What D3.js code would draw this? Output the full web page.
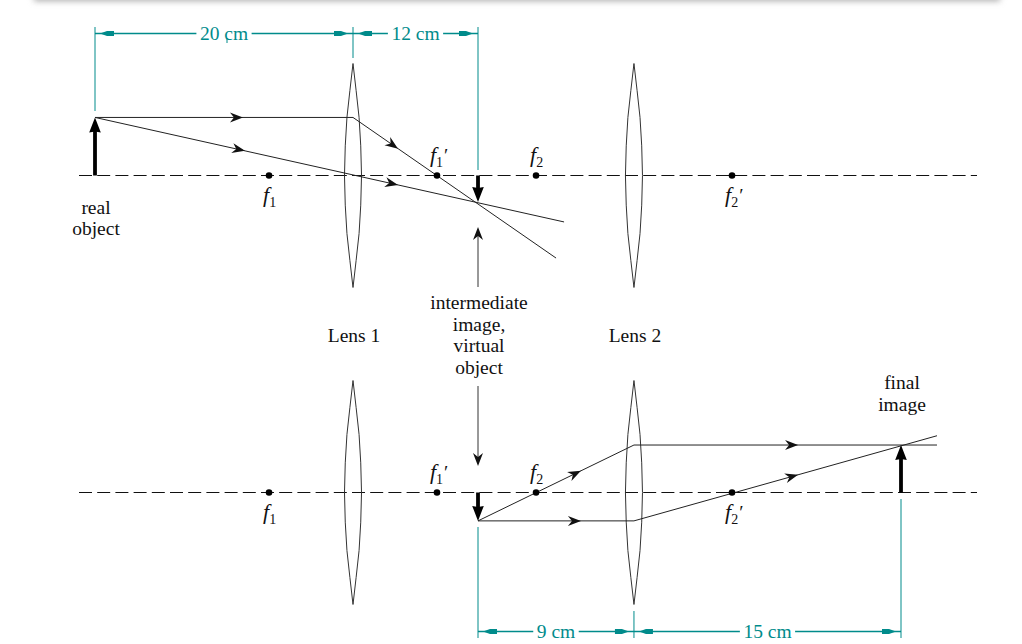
<!DOCTYPE html>
<html>
<head>
<meta charset="utf-8">
<script src="https://cdn.jsdelivr.net/npm/d3@7"></script>
<style>
body { margin: 0; background: #fff; }
text { font-family: "Liberation Serif", serif; font-size: 19.5px; fill: #111; }
</style>
</head>
<body>
<div id="chart"></div>
<script>
var w = 1022;
var h = 644;
var teal = "#008b8b";

// everything in cm from lens 1, height in cm above the axis
var objectX = -20, lens1X = 0, imageX = 9.69, lens2X = 21.78, finalX = 42.48;
var f1X = -6.51, f1pX = 6.51, f2X = 14.19, f2pX = 29.38;

var objectH = 4.5, imageTopH = -2.05, imageBottomH = -2.2, finalH = 3.68;

var lensProfile = [[8.68, 0], [6.6, 0.24], [4.5, 0.47], [2.3, 0.6], [0, 0.66]];

var topRays = [
  { points: [[-20, 4.5], [0, 4.5], [15.74, -6.4]], arrows: [-8.53, 3.49] },
  { points: [[-20, 4.5], [16.36, -3.6]], arrows: [-8.37, 3.49] }
];
var bottomRays = [
  { points: [[9.69, -2.2], [21.78, 3.68], [45.27, 3.68]], arrows: [17.67, 34.5] },
  { points: [[9.69, -2.2], [21.78, -2.2], [45.27, 4.4]], arrows: [17.67, 34.5] }
];

var focusTop = [
  { x: f1X, name: "f", sub: "1", prime: false, below: true },
  { x: f1pX, name: "f", sub: "1", prime: true, below: false },
  { x: f2X, name: "f", sub: "2", prime: false, below: false },
  { x: f2pX, name: "f", sub: "2", prime: true, below: true }
];

var topDims = [
  { from: objectX, to: lens1X, label: "20 cm" },
  { from: lens1X, to: imageX, label: "12 cm" }
];
var bottomDims = [
  { from: imageX, to: lens2X, label: "9 cm" },
  { from: lens2X, to: finalX, label: "15 cm" }
];

var captions = [
  { x: objectX, y: 214, lead: 21, lines: ["real", "object"] },
  { x: lens1X, y: 342, lead: 0, lines: ["Lens 1"] },
  { x: imageX, y: 309, lead: 21.7, lines: ["intermediate", "image,", "virtual", "object"] },
  { x: lens2X, y: 342, lead: 0, lines: ["Lens 2"] },
  { x: finalX, y: 389, lead: 21.7, lines: ["final", "image"] }
];

var x = d3.scaleLinear().domain([-20, 42.48]).range([95, 901]);
var yTop = d3.scaleLinear().domain([0, 1]).range([175.5, 162.6]);
var yBottom = d3.scaleLinear().domain([0, 1]).range([492.5, 479.6]);

var svg = d3.select("#chart").append("svg")
            .attr("width", w)
            .attr("height", h)
            .style("display", "block");

var defs = svg.append("defs");
defs.append("filter").attr("id", "blur")
    .attr("x", "-5%").attr("width", "110%").attr("y", "-300%").attr("height", "700%")
    .append("feGaussianBlur").attr("stdDeviation", 3);

// page shadow along the top edge
svg.append("rect")
   .attr("x", 34).attr("y", -6)
   .attr("width", 966).attr("height", 7)
   .attr("fill", "#aaa")
   .attr("filter", "url(#blur)");

function stealth(sel, px, py, angle) {
  sel.append("path")
     .attr("d", "M0,0L-13,-5L-9,0L-13,5Z")
     .attr("transform", "translate(" + px + "," + py + ") rotate(" + angle + ")")
     .attr("fill", "#111");
}

function tealHead(px, py, angle) {
  svg.append("path")
     .attr("d", "M0,0L-7,-2.4L-14,-2.4L-14,2.4L-7,2.4Z")
     .attr("transform", "translate(" + px + "," + py + ") rotate(" + angle + ")")
     .attr("fill", teal);
}

function drawLens(y, cx) {
  var pts = lensProfile.map(function(d) { return [d[1], d[0]]; })
    .concat(lensProfile.slice(0, -1).reverse().map(function(d) { return [d[1], -d[0]]; }));
  var line = d3.line()
    .x(function(d) { return x(cx + d[0]) })
    .y(function(d) { return y(d[1]) });
  var back = pts.map(function(d) { return [-d[0], d[1]]; }).reverse();
  svg.append("path")
     .attr("d", line(pts.concat(back)) + "Z")
     .attr("fill", "none")
     .attr("stroke", "#333")
     .attr("stroke-width", 1);
}

function drawAxis(y) {
  svg.append("line")
     .attr("x1", 79).attr("x2", 977)
     .attr("y1", y(0)).attr("y2", y(0))
     .attr("stroke", "#111")
     .attr("stroke-dasharray", "13,5.2");
}

function drawRays(y, rays) {
  var line = d3.line()
    .x(function(d) { return x(d[0]) })
    .y(function(d) { return y(d[1]) });
  rays.forEach(function(r) {
    svg.append("path")
       .attr("d", line(r.points))
       .attr("fill", "none")
       .attr("stroke", "#222")
       .attr("stroke-width", 1);
    r.arrows.forEach(function(at) {
      var i = 1;
      while (i < r.points.length - 1 && r.points[i][0] < at) i++;
      var a = r.points[i - 1], b = r.points[i];
      var ay = a[1] + (b[1] - a[1]) * (at - a[0]) / (b[0] - a[0]);
      var angle = Math.atan2(y(b[1]) - y(a[1]), x(b[0]) - x(a[0])) * 180 / Math.PI;
      stealth(svg, x(at), y(ay), angle);
    });
  });
}

function drawThick(y, at, height) {
  var dir = height > 0 ? -1 : 1;
  svg.append("line")
     .attr("x1", x(at)).attr("x2", x(at))
     .attr("y1", y(0)).attr("y2", y(height) - dir * 8)
     .attr("stroke", "#000")
     .attr("stroke-width", 3.8);
  svg.append("path")
     .attr("d", "M0,0L-5.8," + (-dir * 15) + "L0," + (-dir * 14) + "L5.8," + (-dir * 15) + "Z")
     .attr("transform", "translate(" + x(at) + "," + y(height) + ")")
     .attr("fill", "#000");
}

function drawFoci(y) {
  var g = svg.append("g");
  g.selectAll("circle")
   .data(focusTop)
   .enter()
   .append("circle")
   .attr("cx", function(d) { return x(d.x) })
   .attr("cy", y(0))
   .attr("r", 3.3)
   .attr("fill", "#000");

  var labels = g.selectAll("text")
    .data(focusTop)
    .enter()
    .append("text")
    .attr("x", function(d) { return x(d.x) - 6 + (d.prime ? -1 : 0) })
    .attr("y", function(d) { return y(0) + (d.below ? 26 : -13.5) });
  labels.append("tspan").text(function(d) { return d.name })
        .style("font-style", "italic")
        .style("font-size", "22px");
  labels.append("tspan").text(function(d) { return d.sub })
        .attr("dy", 5).style("font-size", "14px");
  labels.append("tspan").text(function(d) { return d.prime ? "\u2032" : "" })
        .attr("dx", 1).attr("dy", -5);
}

function drawDims(dims, lineY) {
  dims.forEach(function(d) {
    var label = svg.append("text")
      .attr("x", (x(d.from) + x(d.to)) / 2)
      .attr("y", lineY + 6.5)
      .attr("text-anchor", "middle")
      .style("fill", teal)
      .text(d.label);
    var half = label.node().getComputedTextLength() / 2 + 3.5;
    var mid = (x(d.from) + x(d.to)) / 2;
    svg.append("line").attr("x1", x(d.from)).attr("x2", mid - half)
       .attr("y1", lineY).attr("y2", lineY).attr("stroke", teal).attr("stroke-width", 1.4);
    svg.append("line").attr("x1", mid + half).attr("x2", x(d.to))
       .attr("y1", lineY).attr("y2", lineY).attr("stroke", teal).attr("stroke-width", 1.4);
    tealHead(x(d.from) + 5, lineY, 180);
    tealHead(x(d.to) - 5, lineY, 0);
  });
}

function extension(at, y1, y2) {
  svg.append("line")
     .attr("x1", x(at)).attr("x2", x(at))
     .attr("y1", y1).attr("y2", y2)
     .attr("stroke", teal)
     .attr("stroke-width", 1);
}

// top diagram
drawAxis(yTop);
drawLens(yTop, lens1X);
drawLens(yTop, lens2X);
drawRays(yTop, topRays);
drawThick(yTop, objectX, objectH);
drawThick(yTop, imageX, imageTopH);
drawFoci(yTop);

// bottom diagram
drawAxis(yBottom);
drawLens(yBottom, lens1X);
drawLens(yBottom, lens2X);
drawRays(yBottom, bottomRays);
drawThick(yBottom, imageX, imageBottomH);
drawThick(yBottom, finalX, finalH);
drawFoci(yBottom);

// dimension lines
extension(objectX, 27, 111);
extension(lens1X, 27, 58);
extension(imageX, 27, 170);
extension(imageX, 527, 638);
extension(lens2X, 611, 638);
extension(finalX, 499, 638);
drawDims(topDims, 33.5);
drawDims(bottomDims, 631.5);

// small stray tick under the c of 20 cm, it is in the scan
svg.append("line")
   .attr("x1", 227).attr("x2", 227)
   .attr("y1", 38).attr("y2", 43)
   .attr("stroke", teal);

// pointers from the middle caption
svg.append("line").attr("x1", x(imageX)).attr("x2", x(imageX))
   .attr("y1", 287).attr("y2", 236).attr("stroke", "#333");
stealth(svg, x(imageX), 227, -90);
svg.append("line").attr("x1", x(imageX)).attr("x2", x(imageX))
   .attr("y1", 386).attr("y2", 457).attr("stroke", "#333");
stealth(svg, x(imageX), 466, 90);

// captions
captions.forEach(function(c) {
  svg.selectAll(null)
     .data(c.lines)
     .enter()
     .append("text")
     .attr("x", x(c.x) + 1)
     .attr("y", function(d, i) { return c.y + i * c.lead })
     .attr("text-anchor", "middle")
     .text(function(d) { return d });
});
</script>
</body>
</html>
